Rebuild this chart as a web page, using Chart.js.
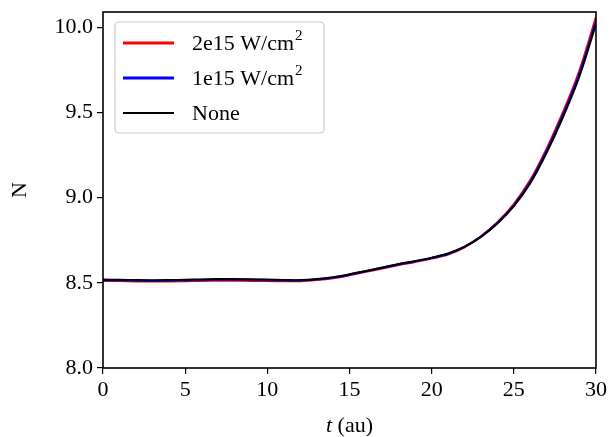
<!DOCTYPE html>
<html>
<head>
<meta charset="utf-8">
<script src="https://cdn.jsdelivr.net/npm/chart.js@4.4.0/dist/chart.umd.min.js"></script>
<style>
  html, body { margin: 0; padding: 0; background: #fff; }
  #wrap { width: 611px; height: 437px; }
</style>
</head>
<body>
<div id="wrap"><canvas id="nChart" width="611" height="437"></canvas></div>
<script>
const FONT = '"Liberation Serif", "DejaVu Serif", serif';
const FS = 22;

// time grid (au)
const times = [0, 1, 2, 3, 4, 5, 6, 7, 8, 9, 10, 11, 12, 13, 14, 15, 16, 17, 18, 19, 20, 21, 22, 23, 24, 25, 26, 27, 28, 29, 30];

const nStrong = [8.512, 8.511, 8.509, 8.508, 8.508, 8.510, 8.512, 8.513, 8.513, 8.512, 8.511, 8.510, 8.510, 8.517, 8.528, 8.545, 8.565, 8.585, 8.605, 8.623, 8.643, 8.667, 8.709, 8.773, 8.855, 8.962, 9.103, 9.288, 9.503, 9.748, 10.060];
const nWeak   = [8.516, 8.515, 8.513, 8.512, 8.513, 8.515, 8.517, 8.519, 8.519, 8.518, 8.516, 8.514, 8.513, 8.520, 8.531, 8.548, 8.568, 8.588, 8.608, 8.626, 8.646, 8.670, 8.711, 8.771, 8.851, 8.955, 9.093, 9.275, 9.488, 9.730, 10.035];
const nNone   = [8.519, 8.518, 8.516, 8.515, 8.516, 8.518, 8.520, 8.522, 8.522, 8.521, 8.519, 8.517, 8.516, 8.522, 8.533, 8.550, 8.570, 8.590, 8.610, 8.628, 8.648, 8.672, 8.712, 8.770, 8.848, 8.950, 9.085, 9.265, 9.475, 9.715, 10.020];

const seriesLabels = ['2e15 W/cm', '1e15 W/cm', 'None'];
const seriesSup = ['2', '2', ''];
const seriesColors = ['#ff0000', '#0000ff', '#000000'];
const yTicks = [8.0, 8.5, 9.0, 9.5, 10.0];
const xTicks = [0, 5, 10, 15, 20, 25, 30];

function toPoints(ys) {
  return times.map((t, i) => ({ x: t, y: ys[i] }));
}

const frameAndText = {
  id: 'frameAndText',
  afterDraw(chart) {
    const { ctx, chartArea: a } = chart;
    ctx.save();
    // frame
    ctx.strokeStyle = '#000';
    ctx.lineWidth = 1.6;
    ctx.strokeRect(a.left, a.top, a.right - a.left, a.bottom - a.top);

    // axis titles
    ctx.fillStyle = '#000';
    ctx.textBaseline = 'middle';
    const rest = ' (au)';
    ctx.font = 'italic ' + FS + 'px ' + FONT;
    const wT = ctx.measureText('t').width;
    ctx.font = FS + 'px ' + FONT;
    const wR = ctx.measureText(rest).width;
    const cx = (a.left + a.right) / 2;
    const sx = cx - (wT + wR) / 2;
    ctx.textAlign = 'left';
    ctx.font = 'italic ' + FS + 'px ' + FONT;
    ctx.fillText('t', sx, 426);
    ctx.font = FS + 'px ' + FONT;
    ctx.fillText(rest, sx + wT, 426);

    ctx.translate(20, (a.top + a.bottom) / 2);
    ctx.rotate(-Math.PI / 2);
    ctx.textAlign = 'center';
    ctx.fillText('N', 0, 0);
    ctx.restore();

    // legend
    ctx.save();
    const bx = 115, by = 22, bw = 209, bh = 111, r = 4;
    ctx.fillStyle = 'rgba(255,255,255,0.8)';
    ctx.strokeStyle = '#cccccc';
    ctx.lineWidth = 1.2;
    ctx.beginPath();
    ctx.roundRect(bx, by, bw, bh, r);
    ctx.fill();
    ctx.stroke();
    const rows = [43, 78, 113];
    ctx.textBaseline = 'middle';
    ctx.textAlign = 'left';
    seriesLabels.forEach((lab, i) => {
      ctx.strokeStyle = seriesColors[i];
      ctx.lineWidth = i === 2 ? 2 : 3;
      ctx.beginPath();
      ctx.moveTo(123, rows[i]);
      ctx.lineTo(174, rows[i]);
      ctx.stroke();
      ctx.fillStyle = '#000';
      ctx.font = FS + 'px ' + FONT;
      ctx.fillText(lab, 192, rows[i] + 1);
      if (seriesSup[i]) {
        const w = ctx.measureText(lab).width;
        ctx.font = Math.round(FS * 0.7) + 'px ' + FONT;
        ctx.fillText(seriesSup[i], 192 + w + 1, rows[i] - 7);
      }
    });
    ctx.restore();
  }
};

new Chart(document.getElementById('nChart'), {
  type: 'line',
  data: {
    datasets: [
      { label: seriesLabels[0], data: toPoints(nStrong), borderColor: seriesColors[0], borderWidth: 2.2, order: 3 },
      { label: seriesLabels[1], data: toPoints(nWeak), borderColor: seriesColors[1], borderWidth: 2.2, order: 2 },
      { label: seriesLabels[2], data: toPoints(nNone), borderColor: seriesColors[2], borderWidth: 2, order: 1 }
    ]
  },
  options: {
    responsive: false,
    animation: false,
    devicePixelRatio: 1,
    layout: { padding: { top: 12, right: 15, left: 0, bottom: 0 } },
    elements: { point: { radius: 0 }, line: { tension: 0.35 } },
    plugins: { legend: { display: false }, tooltip: { enabled: false } },
    scales: {
      x: {
        type: 'linear', min: 0, max: 30,
        afterFit(s) { s.height = 69; s.paddingLeft = 0; s.paddingRight = 0; },
        afterBuildTicks(s) { s.ticks = xTicks.map(v => ({ value: v })); },
        grid: { drawOnChartArea: false, drawTicks: true, tickLength: 6, color: '#000', lineWidth: 1.2 },
        border: { display: false },
        ticks: { color: '#000', font: { family: FONT, size: FS }, padding: 3, maxRotation: 0 }
      },
      y: {
        type: 'linear', min: 8.0, max: 10.09,
        afterFit(s) { s.width = 103; s.paddingTop = 0; s.paddingBottom = 0; },
        afterBuildTicks(s) { s.ticks = yTicks.map(v => ({ value: v })); },
        grid: { drawOnChartArea: false, drawTicks: true, tickLength: 6, color: '#000', lineWidth: 1.2 },
        border: { display: false },
        ticks: { color: '#000', font: { family: FONT, size: FS }, padding: 4, callback: v => v.toFixed(1) }
      }
    }
  },
  plugins: [frameAndText]
});
</script>
</body>
</html>
